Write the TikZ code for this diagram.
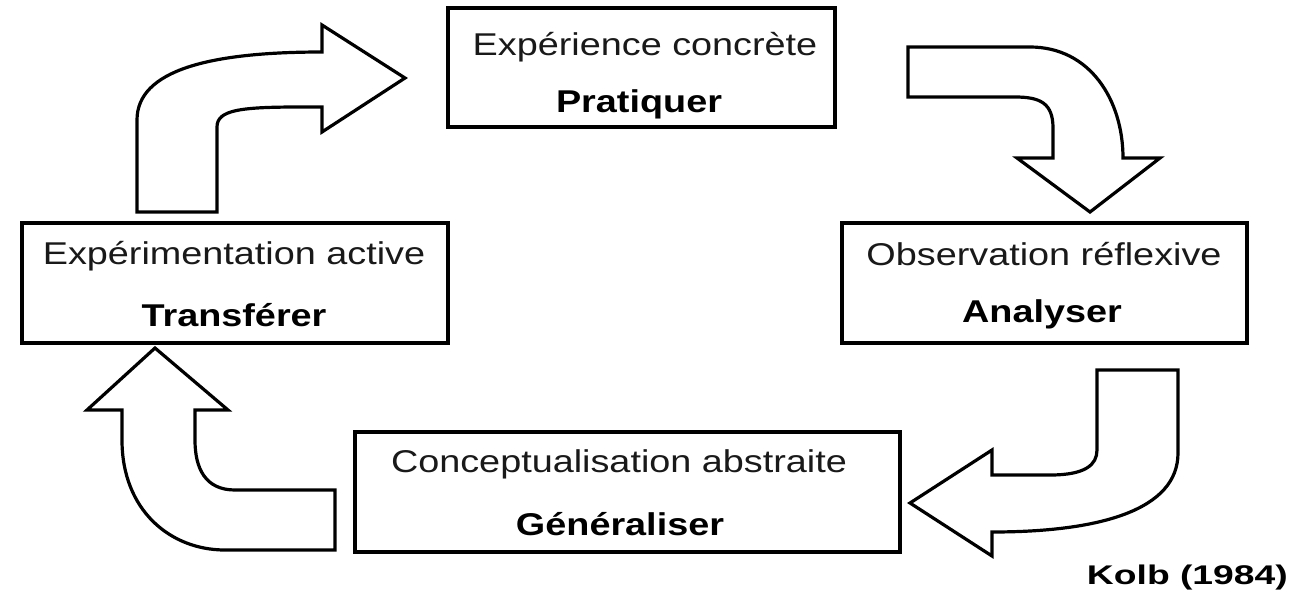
\documentclass[tikz,border=0pt]{standalone}
\usepackage{fontspec}
\setmainfont{Liberation Sans}[FakeStretch=1.2]
\newfontfamily\kolbfont{Liberation Sans}[FakeStretch=1.38]
\usetikzlibrary{calc}
\begin{document}
\begin{tikzpicture}[x=1pt,y=-1pt,
  box/.style={draw=black, line width=3.2pt, rectangle, inner sep=0pt},
  txt/.style={anchor=base, inner sep=0pt, font=\fontsize{31.5}{37}\selectfont, text=black!90},
  btxt/.style={anchor=base, inner sep=0pt, font=\fontsize{31.5}{37}\selectfont\bfseries, text=black},
  blockarrow/.style={draw=black, line width=3.2pt, fill=white, line join=miter}]
\useasboundingbox[fill=white] (0,0) rectangle (1291,595);

% boxes
\node[box, minimum width=387pt, minimum height=119pt] (b1) at (641.5,67.5) {};
\node[box, minimum width=426pt, minimum height=120pt] (b2) at (235,283) {};
\node[box, minimum width=405pt, minimum height=120pt] (b3) at (1044.5,283) {};
\node[box, minimum width=545pt, minimum height=120pt] (b4) at (627.5,492) {};

% texts
\node[txt]  (t1a) at (645,55)  {Expérience concrète};
\node[btxt] (t1b) at (639,112) {Pratiquer};
\node[txt]  (t2a) at (234,264) {Expérimentation active};
\node[btxt] (t2b) at (234,326) {Transférer};
\node[txt]  (t3a) at (1044,265) {Observation réflexive};
\node[btxt] (t3b) at (1042,322) {Analyser};
\node[txt]  (t4a) at (619,472) {Conceptualisation abstraite};
\node[btxt] (t4b) at (620,535) {Généraliser};
\node[anchor=base east, inner sep=0pt, font=\kolbfont\fontsize{27}{32}\selectfont\bfseries, text=black] (kolb) at (1288,584) {Kolb (1984)};

% arrow: Transférer -> Pratiquer
\draw[blockarrow] (137,212) -- (137,120)
  .. controls (137,70) and (210,52) .. (322,52)
  -- (322,25) -- (405,78) -- (322,132) -- (322,107)
  -- (300,107) .. controls (240,107) and (217,110) .. (217,127)
  -- (217,212) -- cycle;

% arrow: Pratiquer -> Analyser
\draw[blockarrow] (908,47) -- (1030,47)
  .. controls (1090,47) and (1123,100) .. (1123,158)
  -- (1160,158) -- (1090,212) -- (1017,158) -- (1053,158)
  -- (1053,128) .. controls (1053,103) and (1040,97) .. (1015,97)
  -- (908,97) -- cycle;

% arrow: Analyser -> Generaliser
\draw[blockarrow] (1097,370) -- (1178,370) -- (1178,453)
  .. controls (1178,510) and (1100,532) .. (992,532)
  -- (992,556) -- (910,503) -- (992,450) -- (992,475)
  -- (1050,475) .. controls (1085,475) and (1097,465) .. (1097,450)
  -- cycle;

% arrow: Generaliser -> Transferer
\draw[blockarrow] (335,490) -- (235,490)
  .. controls (205,490) and (195,468) .. (195,440)
  -- (195,410) -- (228,410) -- (155,348) -- (87,410) -- (122,410)
  -- (122,440) .. controls (122,510) and (170,550) .. (225,550)
  -- (335,550) -- cycle;
\end{tikzpicture}
\end{document}
